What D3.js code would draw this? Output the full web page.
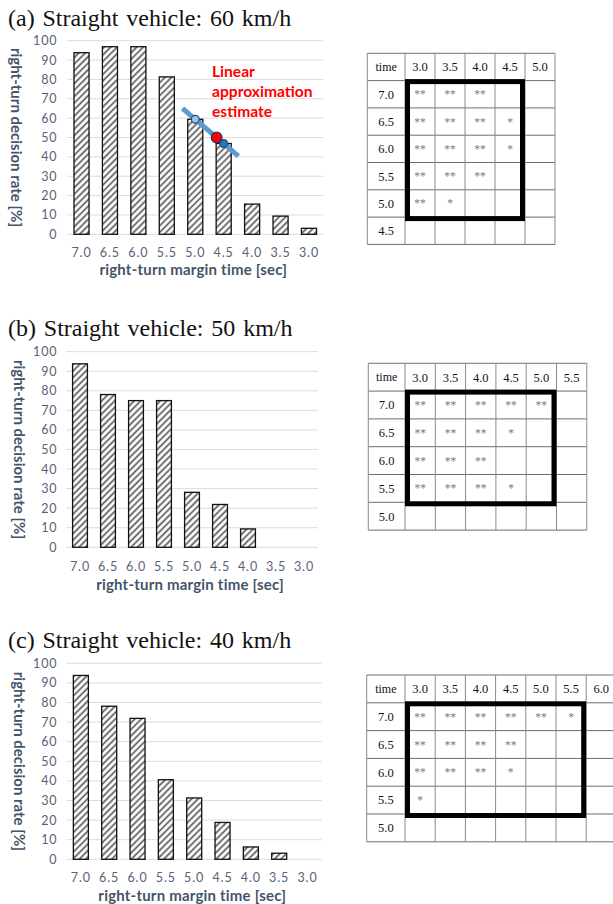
<!DOCTYPE html>
<html>
<head>
<meta charset="utf-8">
<script src="https://cdn.jsdelivr.net/npm/d3@7"></script>
<style>
  body { margin: 0; background: #fff; overflow: hidden; }
  svg { display: block; }
</style>
</head>
<body>
<script>
// ---- data -------------------------------------------------------------
const marginTimes = ["7.0", "6.5", "6.0", "5.5", "5.0", "4.5", "4.0", "3.5", "3.0"];
const rate60 = [93.8, 96.9, 96.9, 81.3, 59.4, 46.9, 15.6, 9.4, 3.1];
const rate50 = [93.8, 78.1, 75.0, 75.0, 28.1, 21.9, 9.4, 0, 0];
const rate40 = [93.8, 78.1, 71.9, 40.6, 31.3, 18.8, 6.3, 3.1, 0];
const rateTicks = [0, 10, 20, 30, 40, 50, 60, 70, 80, 90, 100];

const panelTitles = [
  "(a) Straight vehicle: 60 km/h",
  "(b) Straight vehicle: 50 km/h",
  "(c) Straight vehicle: 40 km/h"
];
const xAxisTitle = "right-turn margin time [sec]";
const yAxisTitle = "right-turn decision rate [%]";

// linear approximation between two neighbouring bars at the 50 % level
const estimateLevel = 50;
const estimatePair = ["5.0", "4.5"];
const estimateNote = ["Linear", "approximation", "estimate"];

// significance tables (row time vs column time)
const cols60 = ["3.0", "3.5", "4.0", "4.5", "5.0"];
const rows60 = ["7.0", "6.5", "6.0", "5.5", "5.0", "4.5"];
const marks60 = [
  ["**", "**", "**", "", ""],
  ["**", "**", "**", "*", ""],
  ["**", "**", "**", "*", ""],
  ["**", "**", "**", "", ""],
  ["**", "*", "", "", ""],
  ["", "", "", "", ""]
];
const box60 = { rows: ["7.0", "5.0"], cols: ["3.0", "4.5"] };

const cols50 = ["3.0", "3.5", "4.0", "4.5", "5.0", "5.5"];
const rows50 = ["7.0", "6.5", "6.0", "5.5", "5.0"];
const marks50 = [
  ["**", "**", "**", "**", "**", ""],
  ["**", "**", "**", "*", "", ""],
  ["**", "**", "**", "", "", ""],
  ["**", "**", "**", "*", "", ""],
  ["", "", "", "", "", ""]
];
const box50 = { rows: ["7.0", "5.5"], cols: ["3.0", "5.0"] };

const cols40 = ["3.0", "3.5", "4.0", "4.5", "5.0", "5.5", "6.0"];
const rows40 = ["7.0", "6.5", "6.0", "5.5", "5.0"];
const marks40 = [
  ["**", "**", "**", "**", "**", "*", ""],
  ["**", "**", "**", "**", "", "", ""],
  ["**", "**", "**", "*", "", "", ""],
  ["*", "", "", "", "", "", ""],
  ["", "", "", "", "", "", ""]
];
const box40 = { rows: ["7.0", "5.5"], cols: ["3.0", "5.5"] };

// ---- layout -----------------------------------------------------------
const W = 613, H = 904;
const panels = [
  { title: panelTitles[0], rates: rate60, estimate: true,
    titleY: 26, top: 40.7, bottom: 234.3, left: 67.3, right: 323.2,
    tickY: 257, xTitleY: 275, yTitleX: 16.5,
    table: { cols: cols60, rows: rows60, marks: marks60, box: box60,
             left: 367.3, top: 53.3, firstW: 37.7, colW: 30, rowH: 27.3 } },
  { title: panelTitles[1], rates: rate50, estimate: false,
    titleY: 335.5, top: 351.7, bottom: 547.3, left: 66, right: 318,
    tickY: 570.5, xTitleY: 589.5, yTitleX: 19,
    table: { cols: cols50, rows: rows50, marks: marks50, box: box50,
             left: 368.3, top: 363.3, firstW: 36.7, colW: 30.3, rowH: 27.8 } },
  { title: panelTitles[2], rates: rate40, estimate: false,
    titleY: 648, top: 663.3, bottom: 859.3, left: 66.7, right: 321.7,
    tickY: 882, xTitleY: 900.5, yTitleX: 19,
    table: { cols: cols40, rows: rows40, marks: marks40, box: box40,
             left: 366.7, top: 675, firstW: 38.3, colW: 30.2, rowH: 27.8 } }
];

const tickColor = "#56627a";
const titleColor = "#44546a";
const sansFont = "Lato, 'Open Sans', sans-serif";
const serifFont = "'Liberation Serif', 'Times New Roman', serif";

const svg = d3.select("body").append("svg")
  .attr("width", W).attr("height", H)
  .attr("viewBox", `0 0 ${W} ${H}`);

// diagonal hatch used to fill the bars
const defs = svg.append("defs");
const hatch = defs.append("pattern")
  .attr("id", "hatch")
  .attr("patternUnits", "userSpaceOnUse")
  .attr("width", 4.6).attr("height", 4.6)
  .attr("patternTransform", "rotate(45)");
hatch.append("rect").attr("width", 4.6).attr("height", 4.6).attr("fill", "#fff");
hatch.append("line")
  .attr("x1", 1.2).attr("y1", 0).attr("x2", 1.2).attr("y2", 4.6)
  .attr("stroke", "#5a5a5a").attr("stroke-width", 1.7);

panels.forEach(p => {
  const g = svg.append("g");

  // panel title
  g.append("text")
    .attr("x", 8).attr("y", p.titleY)
    .attr("font-family", serifFont)
    .attr("font-size", 24)
    .attr("word-spacing", 1.8)
    .attr("fill", "#111")
    .text(p.title);

  const x = d3.scaleBand()
    .domain(marginTimes)
    .range([p.left, p.right])
    .paddingInner(0.47)
    .paddingOuter(0.235);
  const y = d3.scaleLinear().domain([0, 100]).range([p.bottom, p.top]);

  // horizontal gridlines
  g.append("g").selectAll("line")
    .data(rateTicks)
    .join("line")
    .attr("x1", p.left).attr("x2", p.right)
    .attr("y1", d => y(d)).attr("y2", d => y(d))
    .attr("stroke", "#dcdcdc").attr("stroke-width", 1);

  // y tick labels
  g.append("g").selectAll("text")
    .data(rateTicks)
    .join("text")
    .attr("x", 57.5).attr("y", d => y(d))
    .attr("dy", "0.36em")
    .attr("text-anchor", "end")
    .attr("font-family", sansFont).attr("font-size", 12.5)
    .attr("letter-spacing", 0.9)
    .attr("fill", tickColor)
    .text(d => d);

  // x tick labels
  g.append("g").selectAll("text")
    .data(marginTimes)
    .join("text")
    .attr("x", d => x(d) + x.bandwidth() / 2)
    .attr("y", p.tickY)
    .attr("text-anchor", "middle")
    .attr("font-family", sansFont).attr("font-size", 12.5)
    .attr("letter-spacing", 0.9)
    .attr("fill", tickColor)
    .text(d => d);

  // axis titles
  g.append("text")
    .attr("x", (p.left + p.right) / 2 - 2).attr("y", p.xTitleY)
    .attr("text-anchor", "middle")
    .attr("font-family", sansFont).attr("font-size", 15).attr("font-weight", 700)
    .attr("letter-spacing", 0.2)
    .attr("fill", titleColor)
    .text(xAxisTitle);

  g.append("text")
    .attr("transform", `translate(${p.yTitleX},${(p.top + p.bottom) / 2}) rotate(90)`)
    .attr("text-anchor", "middle")
    .attr("dy", "0.35em")
    .attr("font-family", sansFont).attr("font-size", 15).attr("font-weight", 700)
    .attr("fill", titleColor)
    .text(yAxisTitle);

  // bars
  const barData = marginTimes.map((t, i) => ({ t, v: p.rates[i] })).filter(d => d.v > 0);
  g.append("g").selectAll("rect")
    .data(barData)
    .join("rect")
    .attr("x", d => x(d.t))
    .attr("y", d => y(d.v))
    .attr("width", x.bandwidth())
    .attr("height", d => y(0) - y(d.v))
    .attr("fill", "url(#hatch)")
    .attr("stroke", "#111")
    .attr("stroke-width", 1.3);

  if (p.estimate) {
    const cx = t => x(t) + x.bandwidth() / 2;
    const i0 = marginTimes.indexOf(estimatePair[0]);
    const i1 = marginTimes.indexOf(estimatePair[1]);
    const v0 = p.rates[i0], v1 = p.rates[i1];
    const x0 = cx(estimatePair[0]), x1 = cx(estimatePair[1]);
    const at = s => ({ x: x0 + s * (x1 - x0), v: v0 + s * (v1 - v0) });
    const a = at(-0.45), b = at(1.52);
    g.append("line")
      .attr("x1", a.x).attr("y1", y(a.v))
      .attr("x2", b.x).attr("y2", y(b.v))
      .attr("stroke", "#5b9bd5").attr("stroke-width", 5);
    g.append("circle")
      .attr("cx", x0).attr("cy", y(v0)).attr("r", 3.9)
      .attr("fill", "#9dc3e6").attr("stroke", "#1f4e79").attr("stroke-width", 1.2);
    g.append("circle")
      .attr("cx", x1).attr("cy", y(v1)).attr("r", 3.9)
      .attr("fill", "#2e75b6").attr("stroke", "#1f4e79").attr("stroke-width", 1.2);
    const s = (v0 - estimateLevel) / (v0 - v1);
    g.append("circle")
      .attr("cx", at(s).x).attr("cy", y(estimateLevel)).attr("r", 5.3)
      .attr("fill", "#ff0000").attr("stroke", "#1f3864").attr("stroke-width", 1.3);

    g.append("g").selectAll("text")
      .data(estimateNote)
      .join("text")
      .attr("x", 212).attr("y", (d, i) => 77 + i * 20)
      .attr("font-family", sansFont).attr("font-size", 15.6).attr("font-weight", 700)
      .attr("fill", "#ff0000")
      .text(d => d);
  }

  // significance table
  const t = p.table;
  const colX = d3.scaleBand().domain(t.cols)
    .range([t.left + t.firstW, t.left + t.firstW + t.cols.length * t.colW]);
  const rowY = d3.scaleBand().domain(t.rows)
    .range([t.top + t.rowH, t.top + t.rowH * (t.rows.length + 1)]);
  const tRight = colX.range()[1];
  const tBottom = rowY.range()[1];
  const tg = svg.append("g");

  const hLines = [t.top].concat(t.rows.map(r => rowY(r)), [tBottom]);
  const vLines = [t.left].concat(t.cols.map(c => colX(c)), [tRight]);
  tg.selectAll("line.h").data(hLines).join("line").attr("class", "h")
    .attr("x1", t.left).attr("x2", tRight)
    .attr("y1", d => d).attr("y2", d => d)
    .attr("stroke", "#6e6e6e").attr("stroke-width", 1);
  tg.selectAll("line.v").data(vLines).join("line").attr("class", "v")
    .attr("x1", d => d).attr("x2", d => d)
    .attr("y1", t.top).attr("y2", tBottom)
    .attr("stroke", "#8a8a8a").attr("stroke-width", 1);

  // header row
  tg.append("text")
    .attr("x", t.left + t.firstW / 2).attr("y", t.top + t.rowH / 2)
    .attr("dy", "0.35em").attr("text-anchor", "middle")
    .attr("font-family", serifFont).attr("font-size", 12).attr("fill", "#111")
    .text("time");
  tg.selectAll("text.ch").data(t.cols).join("text").attr("class", "ch")
    .attr("x", c => colX(c) + colX.bandwidth() / 2)
    .attr("y", t.top + t.rowH / 2)
    .attr("dy", "0.35em").attr("text-anchor", "middle")
    .attr("font-family", serifFont).attr("font-size", 12.5).attr("fill", "#111")
    .text(c => c);
  tg.selectAll("text.rh").data(t.rows).join("text").attr("class", "rh")
    .attr("x", t.left + t.firstW / 2)
    .attr("y", r => rowY(r) + rowY.bandwidth() / 2)
    .attr("dy", "0.35em").attr("text-anchor", "middle")
    .attr("font-family", serifFont).attr("font-size", 12.5).attr("fill", "#111")
    .text(r => r);

  // significance marks, drawn in a semi-opaque group for grey antialiasing
  const cells = [];
  t.rows.forEach((r, i) => t.cols.forEach((c, j) => {
    if (t.marks[i][j]) cells.push({ r, c, m: t.marks[i][j] });
  }));
  tg.append("g").attr("opacity", 0.99)
    .selectAll("text").data(cells).join("text")
    .attr("x", d => colX(d.c) + colX.bandwidth() / 2)
    .attr("y", d => rowY(d.r) + rowY.bandwidth() / 2 + 4)
    .attr("text-anchor", "middle")
    .attr("font-family", serifFont).attr("font-size", 11.5).attr("fill", "#7a7a7a")
    .text(d => d.m);

  // thick outline around the significant block
  const bx0 = colX(t.box.cols[0]);
  const bx1 = colX(t.box.cols[1]) + colX.bandwidth();
  const by0 = rowY(t.box.rows[0]);
  const by1 = rowY(t.box.rows[1]) + rowY.bandwidth();
  tg.append("rect")
    .attr("x", bx0 + 2.5).attr("y", by0 + 1)
    .attr("width", bx1 - bx0 - 5).attr("height", by1 - by0 + 0.5)
    .attr("fill", "none").attr("stroke", "#000").attr("stroke-width", 5);
});
</script>
</body>
</html>
